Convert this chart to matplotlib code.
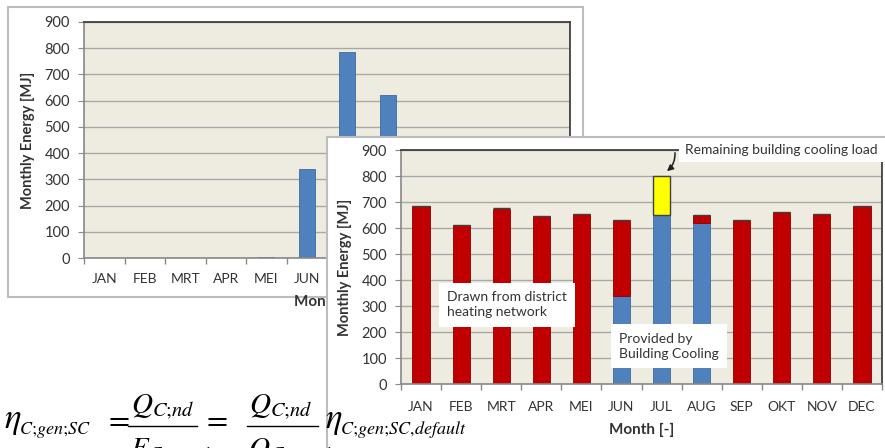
import numpy as np
import matplotlib
matplotlib.use("Agg")
import matplotlib.pyplot as plt
from matplotlib.lines import Line2D
from matplotlib.ticker import FixedLocator

plt.rcParams['font.family'] = ['Lato', 'DejaVu Sans']
plt.rcParams['mathtext.fontset'] = 'stix'

months = ["JAN", "FEB", "MRT", "APR", "MEI", "JUN", "JUL", "AUG", "SEP", "OKT", "NOV", "DEC"]

# back chart: energy delivered by building cooling only
cooling_only = [0, 0, 0, 0, 3, 340, 785, 620, 0, 0, 0, 0]

# front chart: stacked monthly energy [MJ]
provided_by_cooling = [0, 0, 0, 0, 0, 340, 650, 620, 5, 0, 0, 0]
drawn_from_network = [685, 610, 675, 645, 655, 290, 0, 30, 625, 660, 652, 683]
remaining_load = [0, 0, 0, 0, 0, 0, 150, 0, 0, 0, 0, 0]

y_ticks = [0, 100, 200, 300, 400, 500, 600, 700, 800, 900]

RED = '#C00000'
BLUE = '#4F81BD'
YELLOW = '#FFFF00'
PLOT_BG = '#EEECE1'
TXT = '#333333'

W, H = 885, 448


def fig_rect(x0, y0, x1, y1):
    """pixel box (top-left origin) -> figure fraction rect"""
    return [x0 / W, 1 - y1 / H, (x1 - x0) / W, (y1 - y0) / H]


def panel(fig, rect, z):
    ax = fig.add_axes(rect, zorder=z)
    ax.set_facecolor('white')
    ax.set_xticks([])
    ax.set_yticks([])
    for s in ax.spines.values():
        s.set_color('#BDBDBD')
        s.set_linewidth(1.5)
    return ax


def style_energy_axes(ax, xpad):
    x = np.arange(len(months))
    ax.set_facecolor(PLOT_BG)
    ax.set_xlim(-0.5, len(months) - 0.5)
    ax.set_ylim(0, 900)
    ax.set_yticks(y_ticks)
    ax.yaxis.grid(True, color='#A8A8A8', lw=1.0)
    ax.set_axisbelow(True)
    ax.set_xticks(x)
    ax.set_xticklabels(months)
    ax.xaxis.set_minor_locator(FixedLocator(np.arange(-0.5, len(months), 1)))
    ax.tick_params(axis='x', which='major', length=0, pad=xpad, labelsize=10, labelcolor=TXT)
    ax.tick_params(axis='x', which='minor', length=4, color='#888888', width=1)
    ax.tick_params(axis='y', length=4, color='#888888', pad=6, labelsize=10.5, labelcolor=TXT)
    for side in ['top', 'right']:
        ax.spines[side].set_color('#404040')
        ax.spines[side].set_linewidth(1.3)
    for side in ['left', 'bottom']:
        ax.spines[side].set_color('#888888')
        ax.spines[side].set_linewidth(1.2)
    ax.set_ylabel('Monthly Energy [MJ]', fontsize=10.5, fontweight='bold', color=TXT, labelpad=7)
    ax.set_xlabel('Month [-]', fontsize=11, fontweight='bold', color=TXT, labelpad=7)
    return x


fig = plt.figure(figsize=(W / 100, H / 100), dpi=100)

# ---- back chart ----
panel(fig, fig_rect(8, 7, 583, 297), 1)
ax1 = fig.add_axes(fig_rect(84, 22, 570, 258), zorder=2)
x = style_energy_axes(ax1, 11)
ax1.bar(x, cooling_only, width=0.4, color=BLUE, edgecolor='#3E6A9E', lw=0.6)

# ---- front chart ----
panel(fig, fig_rect(327, 137, 900, 460), 3)
ax2 = fig.add_axes(fig_rect(401, 150, 882, 384), zorder=4)
x = style_energy_axes(ax2, 12)
bw = 0.43
ax2.bar(x, provided_by_cooling, width=bw, color=BLUE, edgecolor='#3E6A9E', lw=0.6)
ax2.bar(x, drawn_from_network, width=bw, bottom=provided_by_cooling,
        color=RED, edgecolor='#8B0000', lw=0.6)
tops = np.array(provided_by_cooling) + np.array(drawn_from_network)
ax2.bar(x, remaining_load, width=bw, bottom=tops, color=YELLOW, edgecolor='#404040', lw=1.0)

box = dict(facecolor='white', edgecolor='none', boxstyle='square,pad=0.6')
ax2.text(0.65, 304, 'Drawn from district\nheating network', fontsize=10, color=TXT,
         ha='left', va='center', bbox=box, linespacing=1.3, zorder=5)
ax2.text(4.94, 146, 'Provided by\nBuilding Cooling', fontsize=10, color=TXT,
         ha='left', va='center', bbox=box, linespacing=1.3, zorder=5)
ax2.text(6.58, 900, 'Remaining building cooling load', fontsize=10, color=TXT,
         ha='left', va='center', zorder=6, clip_on=False,
         bbox=dict(facecolor='white', edgecolor='none', boxstyle='square,pad=0.45'))
ax2.annotate('', xy=(6.08, 812), xytext=(6.33, 900), annotation_clip=False,
             arrowprops=dict(arrowstyle='-|>', color='#202020', lw=1.1,
                             mutation_scale=9, connectionstyle='arc3,rad=-0.3'),
             zorder=6)


# ---- equation (cut off at the bottom edge) ----
def eq(px, py, s, size, ha='left'):
    fig.text(px / W, 1 - py / H, s, fontsize=size, ha=ha, va='baseline', zorder=10)


def frac_bar(x0, x1, py):
    fig.add_artist(Line2D([x0 / W, x1 / W], [1 - py / H, 1 - py / H], color='black', lw=1.0, zorder=10))


BIG, SUB = 25, 13
eq(4, 428, r'$\eta$', BIG)
eq(19, 434, r'$C;\!gen;\!SC$', SUB)
eq(104, 428, r'$=$', 22)
frac_bar(128, 197, 426)
eq(163, 413, r'$Q_{C;\!nd}$', 21, ha='center')
eq(130, 457, r'$E_{C;\!gen;\!in}$', 21)
eq(202, 428, r'$=$', 22)
frac_bar(247, 318, 426)
eq(281, 413, r'$Q_{C;\!nd}$', 21, ha='center')
eq(248, 457, r'$Q_{C;\!gen;\!in}$', 21)
eq(325, 428, r'$\eta$', BIG)
eq(340, 434, r'$C;\!gen;\!SC,\!default$', SUB)

fig.savefig('out.png', dpi=100)
